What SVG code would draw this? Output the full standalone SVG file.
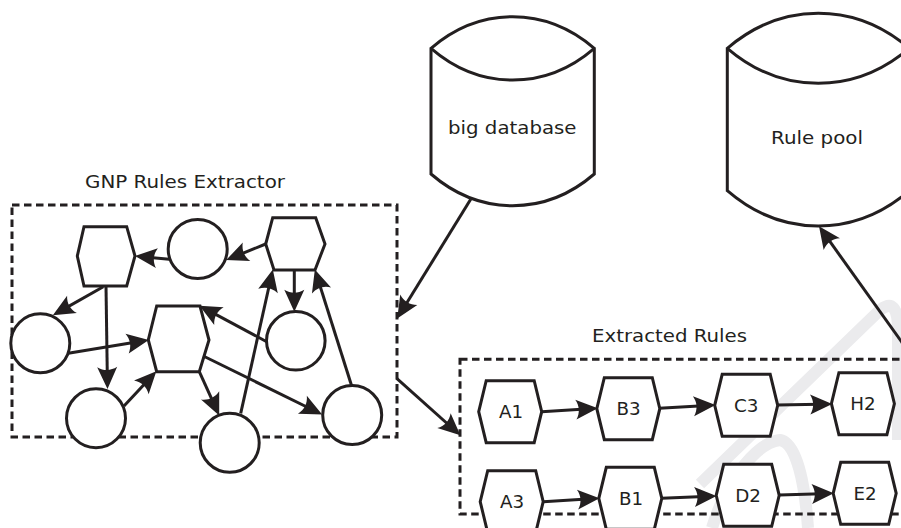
<svg xmlns="http://www.w3.org/2000/svg" width="901" height="528" viewBox="0 0 901 528">
<defs>
<style>
.n{fill:#fff;stroke:#231f20;stroke-width:3;stroke-linejoin:miter}
.d{fill:none;stroke:#231f20;stroke-width:3;stroke-dasharray:7.5 4.5}
.e{fill:none;stroke:#231f20;stroke-width:3;marker-end:url(#ah)}
.t{font-family:"DejaVu Sans","Liberation Sans",sans-serif;fill:#231f20}
.tt{font-size:18px}
.lb{font-size:18.3px;text-anchor:middle}
.wm{fill:none;stroke:#ebebed;stroke-width:12}
</style>
<marker id="ah" viewBox="-12 -12 27 24" refX="0" refY="0" markerWidth="27" markerHeight="24" markerUnits="userSpaceOnUse" orient="auto">
<path d="M12.5,0 L-9.5,-10 C-5.5,-3.5 -5.5,3.5 -9.5,10 Z" fill="#231f20"/>
</marker>
<polygon id="hx" points="-24,-31 24,-31 31.5,0 24,31 -24,31 -31.5,0"/>
</defs>
<g id="watermark">
<path class="wm" d="M712,528 C728,475 760,442 780,440 C797,443 805,485 808,528"/>
<path class="wm" d="M700,484 L880,310 Q898,296 898,330 L898,440"/>
</g>
<g id="gnp-extractor">
<rect class="d" x="12" y="205" width="385" height="232"/>
<text class="t tt" x="85" y="188.3" textLength="200" lengthAdjust="spacingAndGlyphs">GNP Rules Extractor</text>
</g>
<g id="extracted-rules">
<rect class="d" x="460" y="359.3" width="460" height="154.7"/>
<text class="t tt" x="592" y="342.3" textLength="155" lengthAdjust="spacingAndGlyphs">Extracted Rules</text>
</g>
<g id="big-database">
<path class="n" d="M431,48.3 C480,6.2 545.3,6.2 594.3,48.3 L594.3,174 C545.3,216.3 480,216.3 431,174 Z"/>
<path class="n" style="fill:none" d="M431,48.3 C480,90.6 545.3,90.6 594.3,48.3"/>
<text class="t tt" x="448" y="134" textLength="128.5" lengthAdjust="spacingAndGlyphs">big database</text>
</g>
<g id="rule-pool">
<path class="n" d="M727.3,48.3 C781.9,1.6 854.7,1.6 909.3,48.3 L909.3,190.7 C854.7,237.8 781.9,237.8 727.3,190.7 Z"/>
<path class="n" style="fill:none" d="M727.3,48.3 C781.9,95 854.7,95 909.3,48.3"/>
<text class="t tt" x="771" y="144" textLength="92" lengthAdjust="spacingAndGlyphs">Rule pool</text>
</g>
<g id="g-hex1"><polygon class="n" points="84,226.7 126.7,226.7 135,256 126.7,286 84,286 77.3,256"/></g>
<g id="g-hex2"><polygon class="n" points="272.7,217.7 315.7,217.7 325,244 315,270 274,270 265.7,244"/></g>
<g id="g-hex3"><polygon class="n" points="156.7,306 200,306 209,340 199.3,371.7 156.7,371.7 148.3,340"/></g>
<g id="g-c1"><circle class="n" cx="197.7" cy="249" r="29.5"/></g>
<g id="g-c2"><circle class="n" cx="40.3" cy="343.3" r="29.5"/></g>
<g id="g-c3"><circle class="n" cx="295.8" cy="340.8" r="29.3"/></g>
<g id="g-c4"><circle class="n" cx="96" cy="418.2" r="29.5"/></g>
<g id="g-c5"><circle class="n" cx="229.7" cy="442.8" r="29.5"/></g>
<g id="g-c6"><circle class="n" cx="352.2" cy="415" r="29.5"/></g>
<g id="r-A1"><use href="#hx" class="n" x="510.2" y="411.7"/><text class="t lb" x="511" y="418.3">A1</text></g>
<g id="r-B3"><use href="#hx" class="n" x="628.3" y="408.7"/><text class="t lb" x="628.5" y="415">B3</text></g>
<g id="r-C3"><use href="#hx" class="n" x="746.2" y="405.3"/><text class="t lb" x="746.2" y="411.7">C3</text></g>
<g id="r-H2"><use href="#hx" class="n" x="862.9" y="403.7"/><text class="t lb" x="862.9" y="410">H2</text></g>
<g id="r-A3"><use href="#hx" class="n" x="511.7" y="501.7"/><text class="t lb" x="512" y="508.3">A3</text></g>
<g id="r-B1"><use href="#hx" class="n" x="630.3" y="498.3"/><text class="t lb" x="631" y="505">B1</text></g>
<g id="r-D2"><use href="#hx" class="n" x="747.7" y="495.3"/><text class="t lb" x="748" y="502.3">D2</text></g>
<g id="r-E2"><use href="#hx" class="n" x="864.7" y="493.3"/><text class="t lb" x="865" y="500">E2</text></g>
<g id="connectors">
<line class="e" x1="265.7" y1="244" x2="237.75" y2="255.34"/>
<line class="e" x1="169.3" y1="259.3" x2="147.44" y2="257.17"/>
<line class="e" x1="103.3" y1="286.7" x2="63.74" y2="309.09"/>
<line class="e" x1="106" y1="286" x2="107.32" y2="376.5"/>
<line class="e" x1="68.3" y1="353.3" x2="136.46" y2="341.97"/>
<line class="e" x1="124" y1="406" x2="147.81" y2="380.48"/>
<line class="e" x1="199.3" y1="371.7" x2="214.03" y2="404.08"/>
<line class="e" x1="203.3" y1="356" x2="310.94" y2="409"/>
<line class="e" x1="266.7" y1="341.7" x2="210.58" y2="311.66"/>
<line class="e" x1="240.7" y1="413.3" x2="270.08" y2="281.71"/>
<line class="e" x1="294.3" y1="270" x2="294.3" y2="299.3"/>
<line class="e" x1="351.7" y1="386" x2="318.62" y2="281.44"/>
<line class="e" x1="470.7" y1="199.3" x2="403.8" y2="307.79"/>
<line class="e" x1="396.7" y1="378.3" x2="451.06" y2="427"/>
<line class="e" x1="906" y1="348" x2="826.28" y2="236.46"/>
<line class="e" x1="541.7" y1="411.7" x2="585.32" y2="409.03"/>
<line class="e" x1="659.3" y1="408.3" x2="703.02" y2="405.71"/>
<line class="e" x1="777.3" y1="405" x2="819.7" y2="404.22"/>
<line class="e" x1="543.3" y1="501.7" x2="587.02" y2="499.03"/>
<line class="e" x1="661.7" y1="498.3" x2="704.01" y2="496.51"/>
<line class="e" x1="779.3" y1="495" x2="821.31" y2="493.68"/>
</g>
</svg>
